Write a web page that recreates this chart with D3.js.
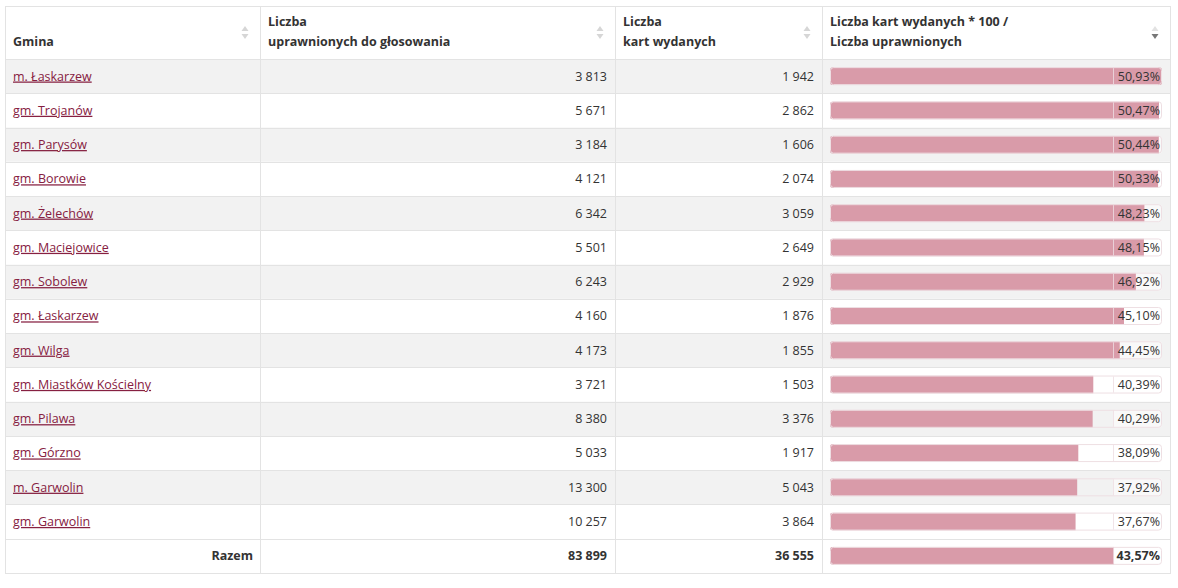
<!DOCTYPE html>
<html>
<head>
<meta charset="utf-8">
<script src="https://cdn.jsdelivr.net/npm/d3@7/dist/d3.min.js"></script>
<style>
  html, body { margin: 0; padding: 0; background: #fff; }
  svg { display: block; font-family: "Open Sans", "Noto Sans", sans-serif; }
</style>
</head>
<body>
<svg id="chart" width="1178" height="588"></svg>
<script>
const gminy = ["m. Łaskarzew", "gm. Trojanów", "gm. Parysów", "gm. Borowie", "gm. Żelechów", "gm. Maciejowice", "gm. Sobolew", "gm. Łaskarzew", "gm. Wilga", "gm. Miastków Kościelny", "gm. Pilawa", "gm. Górzno", "m. Garwolin", "gm. Garwolin"];
const uprawnieni = [3813, 5671, 3184, 4121, 6342, 5501, 6243, 4160, 4173, 3721, 8380, 5033, 13300, 10257];
const karty = [1942, 2862, 1606, 2074, 3059, 2649, 2929, 1876, 1855, 1503, 3376, 1917, 5043, 3864];
const frekwencja = [50.93, 50.47, 50.44, 50.33, 48.23, 48.15, 46.92, 45.10, 44.45, 40.39, 40.29, 38.09, 37.92, 37.67];
const razemLabel = "Razem";
const razemUprawnieni = 83899;
const razemKarty = 36555;
const razemFrekwencja = 43.57;
const headers = [["Gmina"], ["Liczba", "uprawnionych do głosowania"], ["Liczba", "kart wydanych"], ["Liczba kart wydanych * 100 /", "Liczba uprawnionych"]];

const W = 1178, H = 588;
const svg = d3.select("#chart");
const locale = d3.formatLocale({ decimal: ",", thousands: " ", grouping: [3], currency: ["", " zł"] });
const fmtInt = locale.format(",d");
const fmtPct = v => locale.format(".2f")(v) + "%";

const colX = [5, 260, 615, 822, 1170];
const headTop = 5.5, headBottom = 59;
const rowsAll = gminy.map((g, i) => ({ name: g, u: uprawnieni[i], k: karty[i], p: frekwencja[i], total: false }))
  .concat([{ name: razemLabel, u: razemUprawnieni, k: razemKarty, p: razemFrekwencja, total: true }]);

const y = d3.scaleBand().domain(d3.range(rowsAll.length)).range([headBottom, 573]).paddingInner(0).paddingOuter(0);
const trackX0 = 830, trackX1 = 1162;
const x = d3.scaleLinear().domain([0, d3.max(frekwencja)]).range([trackX0, trackX1]);
const barH = 18, labelW = 49;
const border = "#e3e3e3";
const textCol = "#333";

// clip path for bars
svg.append("defs").append("clipPath").attr("id", "trackClip")
  .append("rect").attr("x", trackX0).attr("y", (y.bandwidth() - barH) / 2)
  .attr("width", trackX1 - trackX0).attr("height", barH).attr("rx", 3);

// header
const head = svg.append("g");
head.append("rect").attr("x", colX[0]).attr("y", headTop).attr("width", colX[4] - colX[0]).attr("height", headBottom - headTop).attr("fill", "#fff");
headers.forEach((lines, c) => {
  const x0 = colX[c] + 8;
  lines.forEach((ln, j) => {
    const base = lines.length === 1 ? 46 : 26 + j * 20;
    head.append("text").attr("x", x0).attr("y", base).attr("font-size", 12.5).attr("font-weight", 700)
      .attr("fill", textCol).text(ln);
  });
  // sort icons
  const ix = colX[c + 1] - 15;
  const sorted = c === 3;
  head.append("path").attr("d", `M${ix - 3.5},31 L${ix + 3.5},31 L${ix},26 Z`).attr("fill", sorted ? "#e2e2e2" : "#d6d6d6");
  head.append("path").attr("d", `M${ix - 3.5},34 L${ix + 3.5},34 L${ix},39 Z`).attr("fill", sorted ? "#777" : "#d6d6d6");
});

// rows
const rowG = svg.append("g").selectAll("g").data(rowsAll).join("g")
  .attr("transform", (d, i) => `translate(0,${y(i)})`);
rowG.append("rect").attr("x", colX[0]).attr("y", 0).attr("width", colX[4] - colX[0]).attr("height", y.bandwidth())
  .attr("fill", (d, i) => (!d.total && i % 2 === 0) ? "#f2f2f2" : "#fff");

const cy = y.bandwidth() / 2;
rowG.append("text")
  .attr("x", d => d.total ? colX[1] - 7 : colX[0] + 8)
  .attr("y", cy).attr("dy", "0.35em")
  .attr("text-anchor", d => d.total ? "end" : "start")
  .attr("font-size", 12.5)
  .attr("font-weight", d => d.total ? 700 : 400)
  .attr("fill", d => d.total ? textCol : "#862041")
  .attr("text-decoration", d => d.total ? "none" : "underline")
  .text(d => d.name);

rowG.append("text").attr("x", colX[2] - 8).attr("y", cy).attr("dy", "0.35em").attr("text-anchor", "end")
  .attr("font-size", 12.5).attr("font-weight", d => d.total ? 700 : 400).attr("fill", textCol)
  .text(d => fmtInt(d.u));
rowG.append("text").attr("x", colX[3] - 8).attr("y", cy).attr("dy", "0.35em").attr("text-anchor", "end")
  .attr("font-size", 12.5).attr("font-weight", d => d.total ? 700 : 400).attr("fill", textCol)
  .text(d => fmtInt(d.k));

// label box background
const by = cy - barH / 2;
rowG.append("rect").attr("x", trackX1 - labelW).attr("y", by).attr("width", labelW).attr("height", barH)
  .attr("rx", 3).attr("fill", "rgba(255,255,255,0.55)");
// bar
rowG.append("rect").attr("x", trackX0).attr("y", by).attr("width", d => x(d.p) - trackX0).attr("height", barH)
  .attr("fill", "#d99ba9").attr("clip-path", "url(#trackClip)");
// track outline
rowG.append("rect").attr("x", trackX0 + 0.5).attr("y", by + 0.5).attr("width", trackX1 - trackX0 - 1).attr("height", barH - 1)
  .attr("rx", 3).attr("fill", "none").attr("stroke", "#eedfe3").attr("stroke-width", 1);
rowG.append("line").attr("x1", trackX1 - labelW + 0.5).attr("x2", trackX1 - labelW + 0.5).attr("y1", by + 1).attr("y2", by + barH - 1)
  .attr("stroke", "#eedde2").attr("stroke-opacity", 0.8);
rowG.append("text").attr("x", trackX1 - 2).attr("y", cy).attr("dy", "0.35em").attr("text-anchor", "end")
  .attr("font-size", 12.5).attr("font-weight", d => d.total ? 700 : 400).attr("fill", textCol)
  .text(d => fmtPct(d.p));

// grid lines
const grid = svg.append("g").attr("stroke", border).attr("stroke-width", 1).attr("shape-rendering", "crispEdges");
const hLines = [headTop, headBottom].concat(d3.range(1, rowsAll.length + 1).map(i => y(i - 1) + y.bandwidth()));
hLines.forEach(yy => grid.append("line").attr("x1", colX[0]).attr("x2", colX[4]).attr("y1", Math.round(yy) + 0.5).attr("y2", Math.round(yy) + 0.5));
colX.forEach(xx => grid.append("line").attr("x1", xx + 0.5).attr("x2", xx + 0.5).attr("y1", headTop).attr("y2", 573.5));
</script>
</body>
</html>
